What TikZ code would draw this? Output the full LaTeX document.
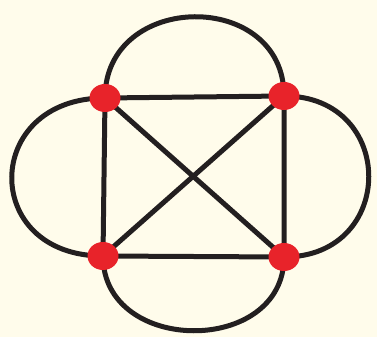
\documentclass[tikz,border=0pt]{standalone}
\usetikzlibrary{shapes.geometric,calc}
\definecolor{bgcream}{HTML}{FFFCEB}
\definecolor{vred}{HTML}{E8232A}
\definecolor{edgeblack}{HTML}{231F20}
\begin{document}
\begin{tikzpicture}[x=1pt,y=1pt,
  vertex/.style={ellipse,fill=vred,draw=none,minimum width=31pt,minimum height=28pt,inner sep=0pt},
  edge/.style={draw=edgeblack,line width=5pt}]
\fill[bgcream] (0,0) rectangle (377,337);
\useasboundingbox (0,0) rectangle (377,337);
\coordinate (ptl) at (105,239);
\coordinate (ptr) at (284,241);
\coordinate (pbl) at (103,81);
\coordinate (pbr) at (284,80);
% edges
\draw[edge] (ptl) -- (ptr) -- (pbr) -- (pbl) -- cycle;
\draw[edge] (ptl) -- (pbr);
\draw[edge] (ptr) -- (pbl);
\draw[edge] (ptl) .. controls ($(ptl)+(0,107)$) and ($(ptr)+(0,107)$) .. (ptr);
\draw[edge] (pbl) .. controls ($(pbl)+(0,-99)$) and ($(pbr)+(0,-99)$) .. (pbr);
\draw[edge] (ptl) .. controls ($(ptl)+(-123,0)$) and ($(pbl)+(-123,0)$) .. (pbl);
\draw[edge] (ptr) .. controls ($(ptr)+(113,0)$) and ($(pbr)+(113,0)$) .. (pbr);
% vertices
\node[vertex] (tl) at (ptl) {};
\node[vertex] (tr) at (ptr) {};
\node[vertex] (bl) at (pbl) {};
\node[vertex] (br) at (pbr) {};
\end{tikzpicture}
\end{document}
